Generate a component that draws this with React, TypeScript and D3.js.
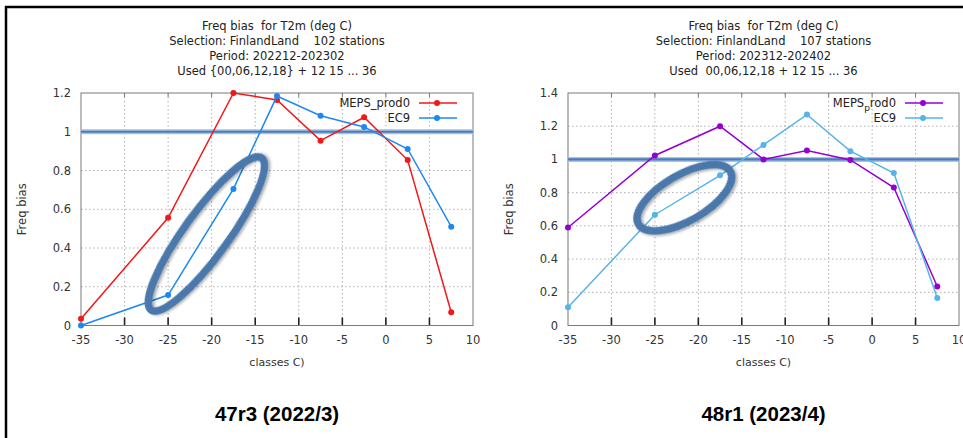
import React from "react";
import * as d3 from "d3";

const classes = [-35, -25, -17.5, -12.5, -7.5, -2.5, 2.5, 7.5];
const leftMeps = [0.035, 0.556, 1.2, 1.164, 0.954, 1.075, 0.854, 0.068];
const leftEc9 = [0.0, 0.157, 0.705, 1.184, 1.083, 1.025, 0.911, 0.51];
const rightMeps = [0.59, 1.024, 1.2, 1.0, 1.054, 0.997, 0.831, 0.235];
const rightEc9 = [0.11, 0.667, 0.904, 1.087, 1.27, 1.05, 0.918, 0.165];
const xTicks = [-35, -30, -25, -20, -15, -10, -5, 0, 5, 10];
const yTicksLeft = [0, 0.2, 0.4, 0.6, 0.8, 1, 1.2];
const yTicksRight = [0, 0.2, 0.4, 0.6, 0.8, 1, 1.2, 1.4];
const leftTitle = [
  "Freq bias  for T2m (deg C)",
  "Selection: FinlandLand    102 stations",
  "Period: 202212-202302",
  "Used {00,06,12,18} + 12 15 ... 36",
];
const rightTitle = [
  "Freq bias  for T2m (deg C)",
  "Selection: FinlandLand    107 stations",
  "Period: 202312-202402",
  "Used  00,06,12,18 + 12 15 ... 36",
];

const FONT = "DejaVu Sans, Verdana, sans-serif";
const CAPFONT = "Liberation Sans, Arial, sans-serif";

type PanelProps = {
  x0: number;
  x1: number;
  yMax: number;
  yTicks: number[];
  title: string[];
  meps: number[];
  ec9: number[];
  mepsColor: string;
  ec9Color: string;
  subLegend: boolean;
  ellipse: { cx: number; cy: number; rx: number; ry: number; angle: number };
  caption: string;
};

function Panel(p: PanelProps) {
  const top = 93;
  const bottom = 325.5;
  const x = d3.scaleLinear().domain([-35, 10]).range([p.x0, p.x1]);
  const y = d3.scaleLinear().domain([0, p.yMax]).range([bottom, top]);
  const line = d3
    .line<number>()
    .x((_, i) => x(classes[i]))
    .y((d) => y(d));
  const cx = (p.x0 + p.x1) / 2;
  const border = "#7a7a7a";
  const series = [
    { vals: p.meps, color: p.mepsColor },
    { vals: p.ec9, color: p.ec9Color },
  ];
  const legX = p.x1 - 63;
  const e = p.ellipse;
  return (
    <g>
      {p.title.map((t, i) => (
        <text
          key={i}
          x={cx}
          y={30 + i * 15}
          textAnchor="middle"
          fontFamily={FONT}
          fontSize={11.5}
          fill="#222"
          style={{ whiteSpace: "pre" }}
        >
          {t}
        </text>
      ))}
      {/* grid */}
      {xTicks.slice(1, -1).map((t) => (
        <line
          key={"gx" + t}
          x1={x(t)}
          x2={x(t)}
          y1={top}
          y2={bottom}
          stroke="#b0b0b0"
          strokeWidth={1}
          strokeDasharray="1.5,2.5"
        />
      ))}
      {p.yTicks.slice(1, -1).map((t) => (
        <line
          key={"gy" + t}
          x1={p.x0}
          x2={p.x1}
          y1={y(t)}
          y2={y(t)}
          stroke="#b0b0b0"
          strokeWidth={1}
          strokeDasharray="1.5,2.5"
        />
      ))}
      {/* ticks */}
      {xTicks.slice(1, -1).map((t) => (
        <g key={"tx" + t}>
          <line x1={x(t)} x2={x(t)} y1={bottom} y2={bottom - 8} stroke="#222" strokeWidth={1.6} />
          <line x1={x(t)} x2={x(t)} y1={top} y2={top + 4} stroke={border} strokeWidth={1} />
        </g>
      ))}
      <rect
        x={p.x0}
        y={top}
        width={p.x1 - p.x0}
        height={bottom - top}
        fill="none"
        stroke={border}
        strokeWidth={1}
      />
      {/* tick labels */}
      {xTicks.map((t) => (
        <text
          key={"lx" + t}
          x={x(t)}
          y={344}
          textAnchor="middle"
          fontFamily={FONT}
          fontSize={11.5}
          fill="#333"
        >
          {t}
        </text>
      ))}
      {p.yTicks.map((t) => (
        <text
          key={"ly" + t}
          x={p.x0 - 10}
          y={y(t) + 4}
          textAnchor="end"
          fontFamily={FONT}
          fontSize={11.5}
          fill="#333"
        >
          {d3.format("~g")(t)}
        </text>
      ))}
      <text
        transform={`translate(${p.x0 - 55},${(top + bottom) / 2}) rotate(-90)`}
        textAnchor="middle"
        fontFamily={FONT}
        fontSize={11.5}
        fill="#333"
      >
        Freq bias
      </text>
      <text x={cx} y={366} textAnchor="middle" fontFamily={FONT} fontSize={11} fill="#333">
        classes C)
      </text>
      {/* reference line at 1 */}
      <line x1={p.x0} x2={p.x1} y1={y(1)} y2={y(1)} stroke="#a9c2e0" strokeWidth={5} />
      <line x1={p.x0} x2={p.x1} y1={y(1)} y2={y(1)} stroke="#4a7dbb" strokeWidth={2.2} />
      {/* series */}
      {series.map((s, k) => (
        <g key={"s" + k}>
          <path d={line(s.vals) || ""} fill="none" stroke={s.color} strokeWidth={1.5} />
          {s.vals.map((v, i) => (
            <circle key={i} cx={x(classes[i])} cy={y(v)} r={3} fill={s.color} />
          ))}
        </g>
      ))}
      {/* legend */}
      {series.map((s, k) => (
        <g key={"lg" + k}>
          <line x1={legX + 9} x2={legX + 47} y1={103 + k * 15} y2={103 + k * 15} stroke={s.color} strokeWidth={1.5} />
          <circle cx={legX + 27} cy={103 + k * 15} r={3} fill={s.color} />
        </g>
      ))}
      <text x={legX} y={107} textAnchor="end" fontFamily={FONT} fontSize={11.5} fill="#222">
        {p.subLegend ? (
          <>
            <tspan>MEPS</tspan>
            <tspan fontSize={9} dy={4}>p</tspan>
            <tspan dy={-4}>rod0</tspan>
          </>
        ) : (
          "MEPS_prod0"
        )}
      </text>
      <text x={legX} y={122} textAnchor="end" fontFamily={FONT} fontSize={11.5} fill="#222">
        EC9
      </text>
      {/* annotation ellipse */}
      <ellipse
        cx={x(e.cx)}
        cy={y(e.cy)}
        rx={e.rx}
        ry={e.ry}
        transform={`rotate(${e.angle},${x(e.cx)},${y(e.cy)})`}
        fill="none"
        stroke="#4b78ab"
        strokeWidth={7.5}
        filter="url(#shadow)"
      />
      <text
        x={cx}
        y={421}
        textAnchor="middle"
        fontFamily={CAPFONT}
        fontWeight="bold"
        fontSize={20.5}
        fill="#000"
      >
        {p.caption}
      </text>
    </g>
  );
}

export default function App() {
  return (
    <svg
      width={963}
      height={438}
      style={{ position: "absolute", left: 0, top: 0, background: "#fff" }}
    >
      <defs>
        <filter id="shadow" x="-20%" y="-20%" width="140%" height="140%">
          <feGaussianBlur in="SourceAlpha" stdDeviation="1.5" />
          <feOffset dx="1" dy="2" result="b" />
          <feComponentTransfer>
            <feFuncA type="linear" slope="0.35" />
          </feComponentTransfer>
          <feMerge>
            <feMergeNode />
            <feMergeNode in="SourceGraphic" />
          </feMerge>
        </filter>
      </defs>
      <rect width={963} height={438} fill="#fff" />
      <line x1={5} x2={963} y1={7} y2={7} stroke="#000" strokeWidth={2.5} />
      <line x1={6} x2={6} y1={6} y2={438} stroke="#000" strokeWidth={2.5} />
      <Panel
        x0={81}
        x1={473}
        yMax={1.2}
        yTicks={yTicksLeft}
        title={leftTitle}
        meps={leftMeps}
        ec9={leftEc9}
        mepsColor="#f01818"
        ec9Color="#1e88f0"
        subLegend={false}
        ellipse={{ cx: -20.6, cy: 0.472, rx: 94, ry: 22, angle: -54 }}
        caption="47r3 (2022/3)"
      />
      <Panel
        x0={568}
        x1={959}
        yMax={1.4}
        yTicks={yTicksRight}
        title={rightTitle}
        meps={rightMeps}
        ec9={rightEc9}
        mepsColor="#9400d3"
        ec9Color="#56b4e9"
        subLegend={true}
        ellipse={{ cx: -21.6, cy: 0.769, rx: 53, ry: 23, angle: -30 }}
        caption="48r1 (2023/4)"
      />
    </svg>
  );
}
